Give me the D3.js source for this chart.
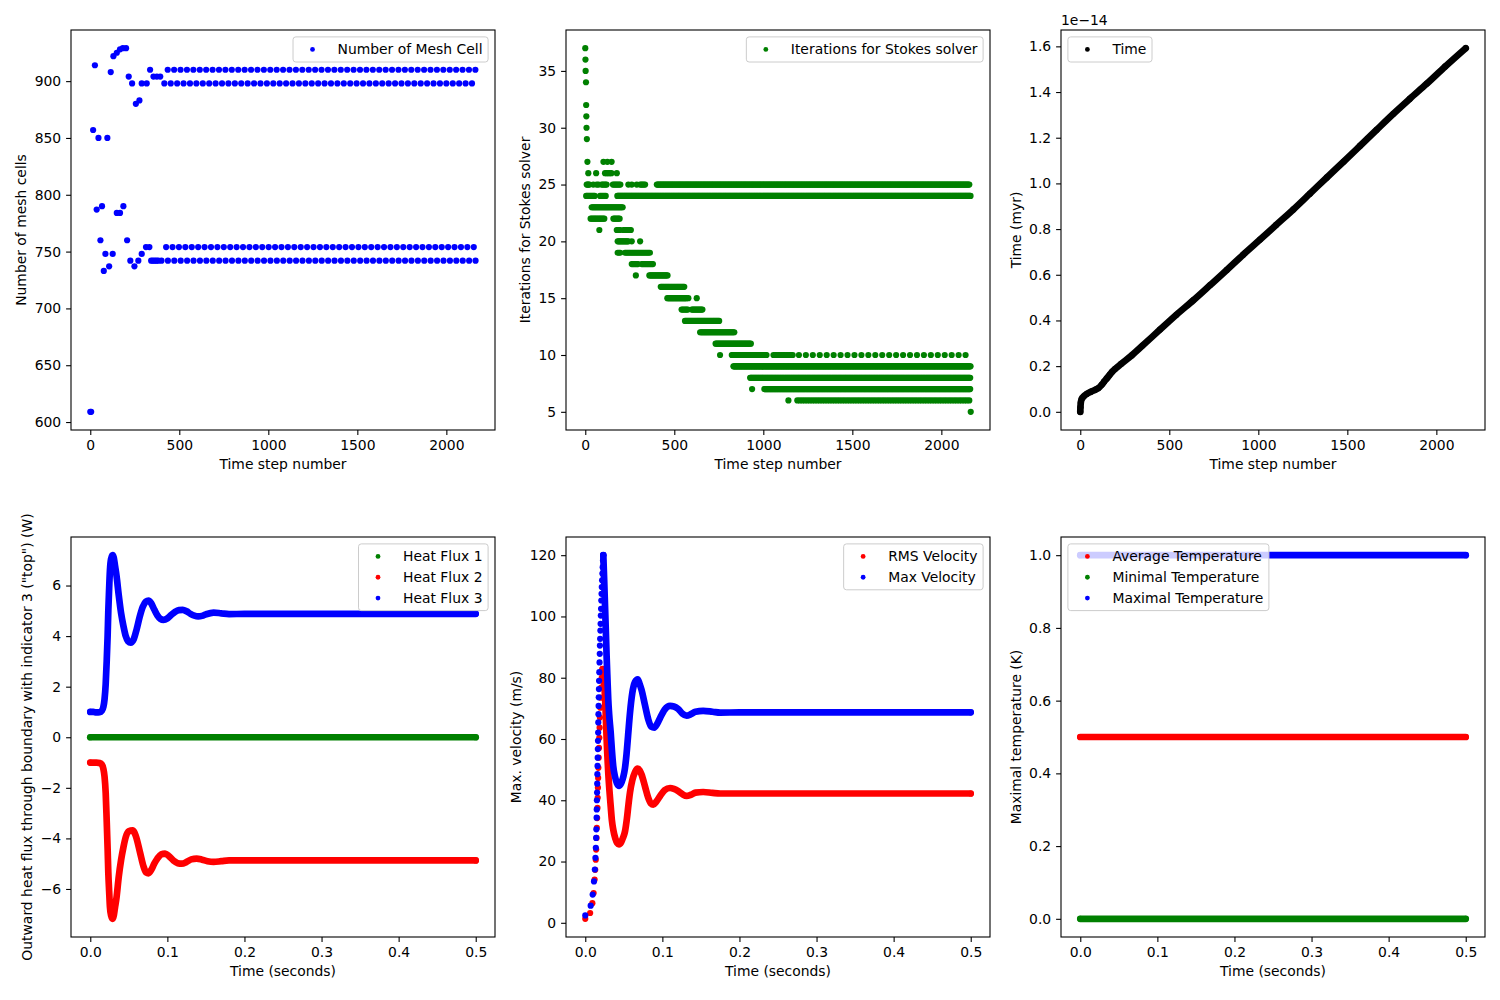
<!DOCTYPE html>
<html><head><meta charset="utf-8">
<script src="https://cdn.jsdelivr.net/npm/d3@7"></script>
<style>
body{margin:0;background:#fff}
svg{display:block}
text{font-family:"DejaVu Sans",sans-serif;font-size:13.9px;fill:#000}
</style>
</head><body><svg id="c" width="1500" height="1000"></svg>
<script>
// ---------------- DATA ----------------
// Panel 1: number of mesh cells (transient part)
const meshSteps = [0,5,16,26,36,46,57,66,76,85,96,106,115,126,130,149,149,167,167,183,186,201,207,216,225,235,248,256,270,276,289,289,313,317,332,336,342,352,355,362,372,374,382,393];
const meshCells = [609,609,857,914,787,850,760,790,733,748,850,737,908,748,922,925,784,928,784,929,790,929,760,904,742,898,737,880,742,883,898,748,754,898,754,910,742,742,904,742,742,904,742,904];
// Panel 1: steady alternating cell counts, first step of each row, output stride, last step
const steadyCells = [910,898,754,742];
const steadyFirstStep = [435,416,426,400];
const steadyStride = 36;
const lastStep = 2165;

// Panel 2: Stokes iterations as runs [iterations, firstStep, lastStep, stride]
const stokesRuns = [
 [37,0,0,1],[36,1,1,1],[35,2,2,1],[34,4,4,1],[32,5,5,1],[31,6,6,1],[30,7,7,1],[29,9,9,1],
 [27,12,12,1],[27,102,102,1],[27,124,124,1],[27,148,148,1],
 [26,17,17,1],[26,61,61,1],[26,111,148,9],[26,177,177,1],
 [25,8,27,5],[25,45,45,1],[25,64,74,10],[25,92,121,7],[25,155,199,7],[25,242,242,1],[25,261,261,1],[25,289,289,1],[25,308,336,7],[25,402,2160,5],
 [24,5,55,6],[24,83,121,8],[24,180,2165,4],
 [23,36,214,6],
 [22,30,111,7],[22,158,199,7],
 [21,79,79,1],[21,177,196,6],[21,214,261,7],
 [20,182,242,6],[20,261,261,1],[20,308,308,1],
 [19,182,196,7],[19,223,364,7],
 [18,261,298,7],[18,317,383,7],
 [17,284,284,1],[17,360,463,6],
 [16,424,557,6],
 [15,461,570,6],[15,579,579,1],[15,626,626,1],
 [14,541,579,7],[14,598,660,6],
 [13,560,753,6],
 [12,645,838,6],
 [11,732,935,6],
 [10,757,757,1],[10,823,1020,5],[10,1057,1170,9],[10,1200,2165,39],
 [9,832,2165,4],
 [8,926,2165,4],
 [7,937,937,1],[7,1006,2165,4],
 [6,1141,1141,1],[6,1191,2160,14],
 [5,2165,2165,1]
];

// Panel 3: model time (units of 1e-14 myr) vs step
const timeSteps = [0,1,3,8,20,36,60,85,102,120,135,149,165,180,196,230,289,350,448,540,636,730,823,915,1010,1100,1197,1290,1385,1480,1572,1665,1759,1850,1947,2050,2165];
const timeValues = [0,0.02,0.04,0.056,0.068,0.078,0.088,0.097,0.104,0.118,0.133,0.146,0.162,0.176,0.188,0.21,0.247,0.29,0.36,0.425,0.489,0.555,0.621,0.688,0.754,0.818,0.886,0.955,1.026,1.096,1.165,1.235,1.305,1.37,1.437,1.512,1.592];

// Panel 4: heat fluxes (W) vs time (s)
const flux1 = [[0,0],[0.5,0]];
const flux2 = [[0,-1.0],[0.004,-1.0],[0.008,-1.0],[0.012,-1.02],[0.015,-1.08],[0.017,-1.25],[0.0185,-1.55],[0.02,-2.2],[0.0213,-3.3],[0.0225,-4.4],[0.0234,-5.35],[0.0245,-6.1],[0.0255,-6.7],[0.027,-7.05],[0.029,-7.18],[0.0305,-7.05],[0.032,-6.75],[0.034,-6.35],[0.037,-5.5],[0.04,-4.85],[0.043,-4.35],[0.046,-3.95],[0.05,-3.72],[0.055,-3.68],[0.059,-3.9],[0.0645,-4.55],[0.069,-5.1],[0.0725,-5.35],[0.0755,-5.38],[0.079,-5.25],[0.083,-5.0],[0.087,-4.8],[0.092,-4.63],[0.097,-4.6],[0.102,-4.7],[0.108,-4.88],[0.1135,-4.98],[0.1185,-5.0],[0.125,-4.93],[0.131,-4.83],[0.138,-4.8],[0.145,-4.84],[0.152,-4.9],[0.16,-4.93],[0.17,-4.9],[0.18,-4.87],[0.2,-4.87],[0.3,-4.87],[0.4,-4.87],[0.5,-4.87]];
const flux3 = [[0,1.0],[0.004,1.0],[0.008,0.98],[0.012,0.99],[0.015,1.05],[0.017,1.2],[0.0185,1.5],[0.02,2.1],[0.0213,3.0],[0.0225,4.0],[0.0234,5.0],[0.0245,5.9],[0.0255,6.6],[0.027,7.05],[0.029,7.2],[0.0305,7.1],[0.032,6.8],[0.034,6.4],[0.037,5.6],[0.04,4.9],[0.043,4.4],[0.046,4.0],[0.049,3.8],[0.0525,3.74],[0.056,3.85],[0.06,4.25],[0.064,4.75],[0.068,5.15],[0.072,5.36],[0.0755,5.4],[0.079,5.3],[0.083,5.05],[0.087,4.82],[0.091,4.68],[0.095,4.64],[0.1,4.7],[0.105,4.84],[0.11,4.96],[0.115,5.03],[0.12,5.04],[0.125,4.98],[0.13,4.88],[0.135,4.81],[0.14,4.78],[0.145,4.8],[0.15,4.86],[0.16,4.93],[0.17,4.9],[0.18,4.87],[0.2,4.88],[0.3,4.88],[0.4,4.88],[0.5,4.88]];

// Panel 5: velocities (m/s) vs time (s): sparse rise, then dense curve
const vrmsRise = [[0,1.3],[0.0063,3.2],[0.0092,6.4],[0.0108,9.7],[0.0121,14.1],[0.0129,17.3],[0.0136,20.6],[0.0141,23.9],[0.0146,27.7],[0.015,31.0],[0.0154,34.2],[0.0158,37.5],[0.0161,40.8],[0.0164,44.1],[0.0167,47.3],[0.017,50.6],[0.0174,53.9],[0.0178,57.1],[0.0182,60.4],[0.0186,63.7],[0.019,67.0],[0.0195,70.2],[0.02,73.5],[0.0206,76.8],[0.0214,80.0],[0.0226,82.8]];
const vrmsCurve = [[0.0226,82.8],[0.024,79],[0.0256,74],[0.0267,67],[0.0277,60],[0.0288,54],[0.0298,49],[0.0314,43],[0.033,38],[0.0345,33.5],[0.0363,30.4],[0.039,27.5],[0.0415,26],[0.0437,25.6],[0.0465,26.3],[0.049,27.8],[0.0515,29.8],[0.054,34],[0.056,38.5],[0.058,42.5],[0.061,46.5],[0.0645,49.2],[0.068,50.3],[0.0705,49.8],[0.073,48.4],[0.0775,44.5],[0.0817,40.8],[0.085,39.0],[0.0882,38.6],[0.092,39.5],[0.0969,41.3],[0.103,43.3],[0.11,44.0],[0.115,43.7],[0.1206,43.0],[0.126,42],[0.1315,41.4],[0.137,41.8],[0.143,42.5],[0.153,42.7],[0.165,42.4],[0.175,42.2],[0.2,42.2],[0.3,42.2],[0.4,42.2],[0.5,42.2]];
const vmaxRise = [[0,2.4],[0.007,5.6],[0.0096,9.2],[0.0113,13.5],[0.0124,17.4],[0.0132,21.2],[0.0137,24.5],[0.0141,27.7],[0.0144,30.5],[0.0147,34.3],[0.0149,37.0],[0.0151,40.0],[0.0153,42.5],[0.0155,45.4],[0.0157,48.5],[0.0159,51.2],[0.0161,53.9],[0.0163,56.7],[0.0165,59.4],[0.0167,62.1],[0.0169,65.4],[0.0171,68.1],[0.0173,70.8],[0.0175,73.6],[0.0177,76.3],[0.0179,79.0],[0.0182,81.8],[0.0185,85.0],[0.0188,87.8],[0.019,90.5],[0.0193,92.7],[0.0196,95.4],[0.0199,97.6],[0.0202,100.3],[0.0205,102.5],[0.0208,105.2],[0.0211,107.4],[0.0214,109.6],[0.0218,111.8],[0.0222,114.0],[0.0226,116.1],[0.023,118.3],[0.0234,120.0]];
const vmaxCurve = [[0.0234,120],[0.0245,112],[0.0256,103.5],[0.0267,95],[0.0277,87],[0.0288,79.5],[0.0298,73],[0.031,68],[0.033,62],[0.0345,56.5],[0.0363,51.1],[0.0385,47.8],[0.041,45.6],[0.044,44.7],[0.047,45.8],[0.0495,47.8],[0.0515,50.5],[0.0535,55],[0.0555,61],[0.058,68.5],[0.061,75],[0.0645,78.6],[0.068,79.5],[0.0705,78],[0.073,76],[0.0775,71],[0.0817,66.4],[0.0855,64],[0.0895,63.7],[0.093,64.8],[0.0969,66.8],[0.103,69.6],[0.11,70.8],[0.115,70.6],[0.1206,69.8],[0.126,68.3],[0.1315,67.6],[0.137,68.1],[0.143,68.9],[0.153,69.2],[0.165,68.9],[0.175,68.6],[0.2,68.7],[0.3,68.7],[0.4,68.7],[0.5,68.7]];

// Panel 6: temperatures (K) vs time (s)
const tempAvg = [[0,0.5],[0.5,0.5]];
const tempMin = [[0,0],[0.5,0]];
const tempMax = [[0,1],[0.5,1]];

// Tick values
const stepTicks = [0,500,1000,1500,2000];
const secTicks = [0,0.1,0.2,0.3,0.4,0.5];
const meshTicks = [600,650,700,750,800,850,900];
const stokesTicks = [5,10,15,20,25,30,35];
const timeTicks = [0,0.2,0.4,0.6,0.8,1.0,1.2,1.4,1.6];
const fluxTicks = [-6,-4,-2,0,2,4,6];
const velTicks = [0,20,40,60,80,100,120];
const tempTicks = [0,0.2,0.4,0.6,0.8,1.0];

const BLUE='#0000ff', GREEN='#008000', RED='#ff0000', BLACK='#000000';

// ---------------- DRAWING ----------------
const svg = d3.select('#c');
const R = 3.1, LW = 6.7;

function measure(txt){const t=svg.append('text').text(txt);const w=t.node().getComputedTextLength();t.remove();return w;}
const padExt = e => {const d=(e[1]-e[0])*0.05; return [e[0]-d,e[1]+d];};

function makePanel(col,row,xExt,yExt){
  const left=[71,566,1061][col], top=[30,537][row], w=424, h=400;
  const x=d3.scaleLinear().domain(padExt(xExt)).range([left,left+w]);
  const y=d3.scaleLinear().domain(padExt(yExt)).range([top+h,top]);
  const data=svg.append('g');
  const front=svg.append('g');
  return {left,top,w,h,x,y,data,front};
}

function finishPanel(p,xTicks,yTicks,xFmt,yFmt,xLabel,yLabel){
  const g=p.front;
  g.append('rect').attr('x',p.left).attr('y',p.top).attr('width',p.w).attr('height',p.h)
    .attr('fill','none').attr('stroke','#000').attr('stroke-width',1.1);
  const ax=g.append('g').attr('transform',`translate(0,${p.top+p.h})`)
    .call(d3.axisBottom(p.x).tickValues(xTicks).tickFormat(xFmt).tickSize(4.9).tickPadding(4.9).tickSizeOuter(0));
  const ay=g.append('g').attr('transform',`translate(${p.left},0)`)
    .call(d3.axisLeft(p.y).tickValues(yTicks).tickFormat(yFmt).tickSize(4.9).tickPadding(4.9).tickSizeOuter(0));
  [ax,ay].forEach(a=>{
    a.attr('font-size',null).attr('font-family',null);
    a.select('.domain').remove();
    a.selectAll('line').attr('stroke','#000').attr('stroke-width',1.1);
    a.selectAll('text').attr('fill','#000');
  });
  g.append('text').attr('x',p.left+p.w/2).attr('y',p.top+p.h+39).attr('text-anchor','middle').text(xLabel);
  let minX=Infinity; ay.selectAll('text').each(function(){const b=this.getBBox(); minX=Math.min(minX,b.x);});
  const cx=p.left+minX-5.6-8;
  g.append('text').attr('transform',`translate(${cx},${p.top+p.h/2}) rotate(-90)`)
    .attr('text-anchor','middle').attr('dominant-baseline','central').text(yLabel);
}

function legend(p,items,corner){
  const pad=5.6, hl=27.8, htp=11.1, rowH=13.9, sp=6.9;
  const tw=d3.max(items,d=>measure(d.label));
  const bw=pad+hl+htp+tw+pad, bh=pad*2+items.length*rowH+(items.length-1)*sp;
  const bx=corner==='right'? p.left+p.w-6.9-bw : p.left+6.9;
  const by=p.top+6.9;
  const lg=svg.append('g');
  lg.append('rect').attr('x',bx).attr('y',by).attr('width',bw).attr('height',bh).attr('rx',2.8)
    .attr('fill','#fff').attr('fill-opacity',0.8).attr('stroke','#cccccc').attr('stroke-width',1);
  items.forEach((d,i)=>{
    const cy=by+pad+rowH/2+i*(rowH+sp);
    lg.append('circle').attr('cx',bx+pad+hl/2).attr('cy',cy).attr('r',2.4).attr('fill',d.color);
    lg.append('text').attr('x',bx+pad+hl+htp).attr('y',cy).attr('dy','0.36em').text(d.label);
  });
}

function dots(p,pts,color,r){
  p.data.append('g').selectAll('circle').data(pts).join('circle')
    .attr('cx',d=>p.x(d[0])).attr('cy',d=>p.y(d[1])).attr('r',r||R).attr('fill',color);
}
function band(p,pts,color){
  p.data.append('path').datum(pts)
    .attr('d',d3.line().x(d=>p.x(d[0])).y(d=>p.y(d[1])).curve(d3.curveMonotoneX))
    .attr('fill','none').attr('stroke',color).attr('stroke-width',LW)
    .attr('stroke-linecap','round').attr('stroke-linejoin','round');
  dots(p,[pts[0],pts[pts.length-1]],color);
}

// Panel 1
{
  const pts = meshSteps.map((s,i)=>[s,meshCells[i]]);
  steadyCells.forEach((v,i)=>{ d3.range(steadyFirstStep[i], lastStep+1, steadyStride).forEach(s=>pts.push([s,v])); });
  const p = makePanel(0,0,[0,lastStep],d3.extent(pts,d=>d[1]));
  dots(p,pts,BLUE);
  finishPanel(p,stepTicks,meshTicks,d3.format('d'),d3.format('d'),'Time step number','Number of mesh cells');
  legend(p,[{label:'Number of Mesh Cell',color:BLUE}],'right');
}
// Panel 2
{
  const pts=[];
  stokesRuns.forEach(([v,a,b,st])=>{ d3.range(a,b+1,st).forEach(s=>pts.push([s,v])); });
  const p = makePanel(1,0,[0,lastStep],d3.extent(pts,d=>d[1]));
  dots(p,pts,GREEN);
  finishPanel(p,stepTicks,stokesTicks,d3.format('d'),d3.format('d'),'Time step number','Iterations for Stokes solver');
  legend(p,[{label:'Iterations for Stokes solver',color:GREEN}],'right');
}
// Panel 3
{
  const pts = timeSteps.map((s,i)=>[s,timeValues[i]]);
  const p = makePanel(2,0,[0,lastStep],d3.extent(timeValues));
  p.data.append('path').datum(pts)
    .attr('d',d3.line().x(d=>p.x(d[0])).y(d=>p.y(d[1])).curve(d3.curveMonotoneX))
    .attr('fill','none').attr('stroke',BLACK).attr('stroke-width',LW).attr('stroke-linecap','round').attr('stroke-linejoin','round');
  dots(p,pts,BLACK);
  finishPanel(p,stepTicks,timeTicks,d3.format('d'),d3.format('.1f'),'Time step number','Time (myr)');
  p.front.append('text').attr('x',p.left).attr('y',p.top-5).text('1e\u221214');
  legend(p,[{label:'Time',color:BLACK}],'left');
}
// Panel 4
{
  const all=flux1.concat(flux2,flux3);
  const p = makePanel(0,1,[0,0.5],d3.extent(all,d=>d[1]));
  band(p,flux1,GREEN); band(p,flux2,RED); band(p,flux3,BLUE);
  finishPanel(p,secTicks,fluxTicks,d3.format('.1f'),d3.format('d'),'Time (seconds)','Outward heat flux through boundary with indicator 3 ("top") (W)');
  legend(p,[{label:'Heat Flux 1',color:GREEN},{label:'Heat Flux 2',color:RED},{label:'Heat Flux 3',color:BLUE}],'right');
}
// Panel 5
{
  const all=vrmsRise.concat(vrmsCurve,vmaxRise,vmaxCurve);
  const p = makePanel(1,1,[0,0.5],d3.extent(all,d=>d[1]));
  dots(p,vrmsRise,RED); band(p,vrmsCurve,RED);
  dots(p,vmaxRise,BLUE); band(p,vmaxCurve,BLUE);
  finishPanel(p,secTicks,velTicks,d3.format('.1f'),d3.format('d'),'Time (seconds)','Max. velocity (m/s)');
  legend(p,[{label:'RMS Velocity',color:RED},{label:'Max Velocity',color:BLUE}],'right');
}
// Panel 6
{
  const all=tempAvg.concat(tempMin,tempMax);
  const p = makePanel(2,1,[0,0.5],d3.extent(all,d=>d[1]));
  band(p,tempAvg,RED); band(p,tempMin,GREEN); band(p,tempMax,BLUE);
  finishPanel(p,secTicks,tempTicks,d3.format('.1f'),d3.format('.1f'),'Time (seconds)','Maximal temperature (K)');
  legend(p,[{label:'Average Temperature',color:RED},{label:'Minimal Temperature',color:GREEN},{label:'Maximal Temperature',color:BLUE}],'left');
}
</script></body></html>
